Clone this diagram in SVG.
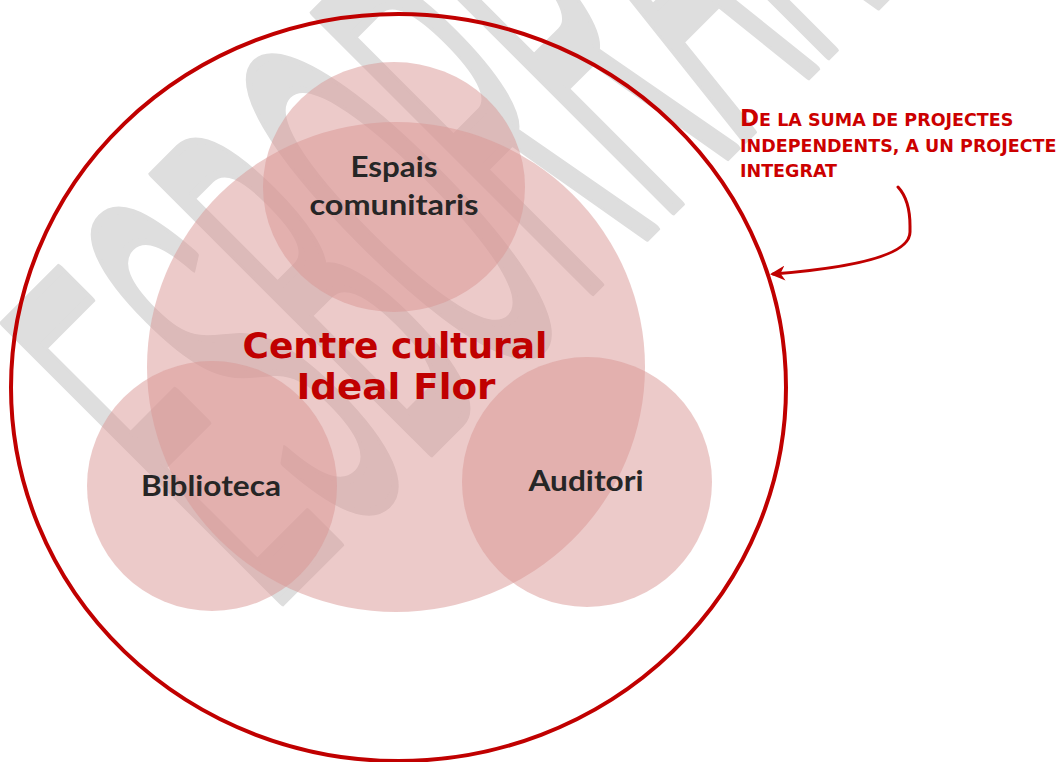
<svg xmlns="http://www.w3.org/2000/svg" width="1062" height="762" viewBox="0 0 1062 762">
  <style>
    .bubble { fill: rgb(217,150,148); fill-opacity: 0.5; stroke: none; }
    .lbl { font-family: Lato, "Liberation Sans", sans-serif; font-weight: bold; font-size: 29px; fill: #262626; text-anchor: middle; }
    .title { font-family: "DejaVu Sans", Verdana, sans-serif; font-weight: bold; font-size: 36px; fill: #c00000; text-anchor: middle; }
    .note { font-family: "DejaVu Sans", Verdana, sans-serif; font-weight: bold; fill: #cc0000; }
    .wm { font-family: "Liberation Sans", Arial, sans-serif; font-weight: normal; font-size: 570px; fill: #dedede; stroke: #dedede; stroke-width: 7; stroke-linejoin: round; vector-effect: non-scaling-stroke; }
  </style>
  <defs>
    <marker id="arrowhead" viewBox="0 0 10 10" refX="8" refY="5" markerWidth="5" markerHeight="5" orient="auto" markerUnits="strokeWidth">
      <path d="M0,0 L10,5 L0,10 L3,5 Z" fill="#c00000"/>
    </marker>
  </defs>
  <rect width="1062" height="762" fill="#ffffff"/>
  <g id="watermark">
    <text class="wm" transform="translate(271,612) rotate(-45) scale(0.277,1)">ESBORRANY</text>
  </g>
  <g id="centre-cultural">
    <ellipse class="bubble" cx="396" cy="367" rx="249" ry="245"/>
  </g>
  <g id="espais-comunitaris">
    <ellipse class="bubble" cx="394" cy="187" rx="131" ry="125"/>
  </g>
  <g id="biblioteca">
    <ellipse class="bubble" cx="212" cy="486" rx="125" ry="125"/>
  </g>
  <g id="auditori">
    <ellipse class="bubble" cx="587" cy="482" rx="125" ry="125"/>
  </g>
  <g id="outer-circle">
    <ellipse cx="398.5" cy="387.5" rx="387.5" ry="373.5" fill="none" stroke="#c00000" stroke-width="4"/>
  </g>
  <g id="labels">
    <text class="lbl" x="394" y="177" textLength="87" lengthAdjust="spacingAndGlyphs">Espais</text>
    <text class="lbl" x="394" y="215" textLength="169" lengthAdjust="spacingAndGlyphs">comunitaris</text>
    <text class="lbl" x="211" y="496" textLength="140" lengthAdjust="spacingAndGlyphs">Biblioteca</text>
    <text class="lbl" x="586" y="491" textLength="115" lengthAdjust="spacingAndGlyphs">Auditori</text>
    <text class="title" x="395" y="358">Centre cultural</text>
    <text class="title" x="396" y="399" textLength="199" lengthAdjust="spacingAndGlyphs">Ideal Flor</text>
  </g>
  <g id="annotation">
    <text class="note" x="740" y="126"><tspan font-size="23">D</tspan><tspan font-size="17.5">E LA SUMA DE PROJECTES</tspan></text>
    <text class="note" x="740" y="152" font-size="17.5">INDEPENDENTS, A UN PROJECTE</text>
    <text class="note" x="740" y="177" font-size="17.5">INTEGRAT</text>
  </g>
  <g id="connectors">
    <path d="M898,187 Q910,200 910,226 L910,232 C910,256 850,268 773,274" fill="none" stroke="#c00000" stroke-width="3" stroke-linecap="round" marker-end="url(#arrowhead)"/>
  </g>
</svg>
